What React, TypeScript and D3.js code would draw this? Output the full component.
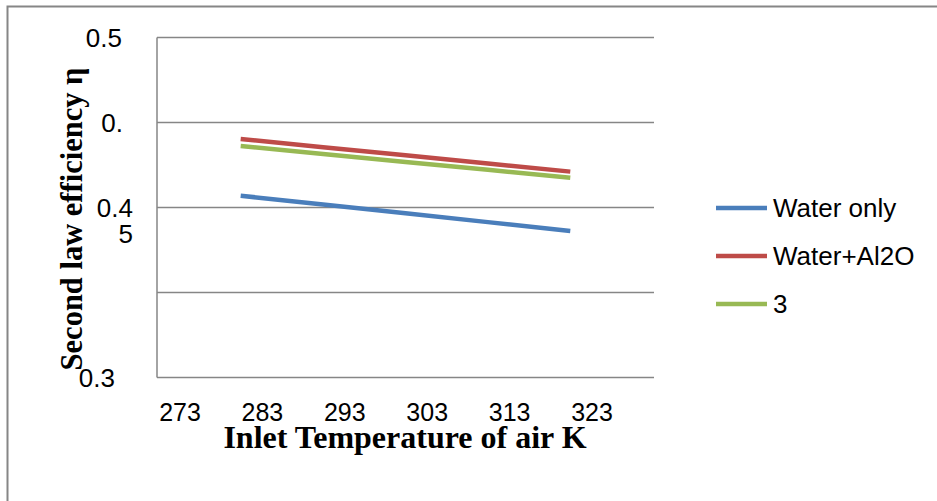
import React, { useEffect, useRef } from 'react';
import * as d3 from 'd3';

// Inlet air temperature (K) and second law efficiency
const temps = [280, 290, 300, 310, 320];
const waterOnly = [0.4069, 0.4018, 0.3966, 0.3914, 0.3862];
const waterAl2O3 = [0.4403, 0.4355, 0.4307, 0.4259, 0.4211];
const thirdSeries = [0.4362, 0.4315, 0.4268, 0.4222, 0.4175];

const xTicks = [273, 283, 293, 303, 313, 323];
// the original's y labels are wrapped/truncated like this
const yTicks = [0.3, 0.35, 0.4, 0.45, 0.5];
const yTickText: Record<string, string[]> = {
  '0.5': ['0.5'],
  '0.45': ['0.'],
  '0.4': ['0.4', '5'],
  '0.35': [],
  '0.3': ['0.3'],
};

const seriesNames = ['Water only', 'Water+Al2O', '3'];
const seriesValues = [waterOnly, waterAl2O3, thirdSeries];
const colors = ['#4a7ebb', '#be4b48', '#98b954'];

const W = 937;
const H = 501;
const SANS = 'Liberation Sans, Arial, sans-serif';
const SERIF = 'Liberation Serif, Times New Roman, serif';

export default function App() {
  const svgRef = useRef<SVGSVGElement>(null);

  useEffect(() => {
    if (!svgRef.current) return;
    const svg = d3.select(svgRef.current);
    svg.selectAll('*').remove();

    const left = 157, right = 654, top = 37.5, bottom = 377.5;

    const x = d3.scaleLinear().domain([273, 323]).range([183, 595]);
    const y = d3.scaleLinear().domain([0.3, 0.5]).range([bottom, top]);

    svg.append('rect').attr('width', W).attr('height', H).attr('fill', '#fff');

    // outer frame (only top and left edges show)
    svg.append('path')
      .attr('d', `M7.5,${H} L7.5,6.5 L${W},6.5`)
      .attr('fill', 'none')
      .attr('stroke', '#868686')
      .attr('stroke-width', 2);

    // gridlines
    svg.append('g')
      .selectAll('line')
      .data(yTicks)
      .join('line')
      .attr('x1', left).attr('x2', right)
      .attr('y1', d => y(d)).attr('y2', d => y(d))
      .attr('stroke', '#868686')
      .attr('stroke-width', 1.5);

    // vertical axis
    svg.append('line')
      .attr('x1', left).attr('x2', left)
      .attr('y1', top).attr('y2', bottom)
      .attr('stroke', '#868686')
      .attr('stroke-width', 1.5);

    // y tick labels (right edges as in the original)
    const yLab = svg.append('g')
      .attr('font-family', SANS)
      .attr('font-size', 26)
      .attr('text-anchor', 'end')
      .attr('fill', '#000');
    const yRight: Record<string, number> = { '0.5': 122, '0.45': 123, '0.4': 133, '0.3': 115 };
    yTicks.forEach(t => {
      const key = String(t);
      yTickText[key].forEach((s, i) => {
        yLab.append('text')
          .attr('x', yRight[key])
          .attr('y', y(t) + 9.5 + i * 26)
          .text(s);
      });
    });

    // x tick labels
    svg.append('g')
      .attr('font-family', SANS)
      .attr('font-size', 25)
      .selectAll('text')
      .data(xTicks)
      .join('text')
      .attr('x', d => x(d) - 3)
      .attr('y', 421)
      .attr('text-anchor', 'middle')
      .text(d => d);

    // axis titles
    svg.append('text')
      .attr('x', 405).attr('y', 448)
      .attr('text-anchor', 'middle')
      .attr('font-family', SERIF)
      .attr('font-weight', 'bold')
      .attr('font-size', 32)
      .text('Inlet Temperature of air K');

    svg.append('text')
      .attr('transform', 'translate(82,219) rotate(-90)')
      .attr('text-anchor', 'middle')
      .attr('font-family', SERIF)
      .attr('font-weight', 'bold')
      .attr('font-size', 30.5)
      .text('Second law efficiency η');

    // series
    const line = d3.line<number>()
      .x((_, i) => x(temps[i]))
      .y(d => y(d));

    seriesValues.forEach((vals, i) => {
      svg.append('path')
        .datum(vals)
        .attr('d', line)
        .attr('fill', 'none')
        .attr('stroke', colors[i])
        .attr('stroke-width', 4.5)
        .attr('stroke-linecap', 'butt');
    });

    // legend
    const leg = svg.append('g');
    seriesNames.forEach((name, i) => {
      const ly = 208 + i * 48;
      leg.append('line')
        .attr('x1', 716).attr('x2', 767)
        .attr('y1', ly).attr('y2', ly)
        .attr('stroke', colors[i])
        .attr('stroke-width', 4.5);
      leg.append('text')
        .attr('x', 773).attr('y', ly + 9)
        .attr('font-family', SANS)
        .attr('font-size', 26)
        .text(name);
    });
  }, []);

  return (
    <svg
      ref={svgRef}
      width={W}
      height={H}
      style={{ position: 'absolute', left: 0, top: 0 }}
    />
  );
}
